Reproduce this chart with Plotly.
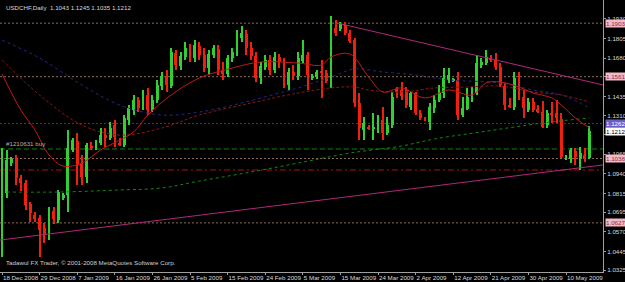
import plotly.graph_objects as go

# ---------------- data ----------------
date_labels = ["18 Dec 2008", "29 Dec 2008", "7 Jan 2009", "16 Jan 2009", "26 Jan 2009",
               "5 Feb 2009", "15 Feb 2009", "24 Feb 2009", "5 Mar 2009", "15 Mar 2009",
               "24 Mar 2009", "2 Apr 2009", "12 Apr 2009", "21 Apr 2009", "30 Apr 2009",
               "10 May 2009"]
date_label_bars = [0, 8, 16, 24, 32, 40, 48, 56, 64, 72, 80, 88, 96, 104, 112, 120]

price_ticks = [1.0325, 1.0445, 1.0570, 1.0695, 1.0815, 1.0940, 1.1065, 1.1190,
               1.1310, 1.1435, 1.1560, 1.1680, 1.1805, 1.1930]
hidden_ticks = [1.1190, 1.1560]   # covered by level labels on the chart

opens = [1.0741, 1.0818, 1.1009, 1.1035, 1.0914, 1.0882, 1.0747, 1.0677, 1.0658, 1.0594,
         1.0549, 1.0703, 1.0645, 1.0786, 1.0805, 1.1093, 1.1150, 1.1009, 1.0920, 1.1118,
         1.1105, 1.1137, 1.1188, 1.1169, 1.1252, 1.1137, 1.1125, 1.1284, 1.1348, 1.1412,
         1.1361, 1.1444, 1.1348, 1.1412, 1.1501, 1.1559, 1.1501, 1.1712, 1.1629, 1.1687,
         1.1744, 1.1680, 1.1757, 1.1700, 1.1616, 1.1700, 1.1738, 1.1604, 1.1578, 1.1680,
         1.1712, 1.1808, 1.1834, 1.1744, 1.1693, 1.1553, 1.1623, 1.1668, 1.1604, 1.1687,
         1.1655, 1.1508, 1.1591, 1.1565, 1.1661, 1.1700, 1.1553, 1.1559, 1.1591, 1.1585,
         1.1527, 1.1872, 1.1866, 1.1891, 1.1840, 1.1795, 1.1393, 1.1220, 1.1239, 1.1227,
         1.1233, 1.1284, 1.1201, 1.1252, 1.1482, 1.1476, 1.1476, 1.1367, 1.1457, 1.1329,
         1.1297, 1.1271, 1.1361, 1.1412, 1.1457, 1.1540, 1.1533, 1.1540, 1.1316, 1.1355,
         1.1425, 1.1457, 1.1636, 1.1648, 1.1680, 1.1668, 1.1623, 1.1501, 1.1380, 1.1367,
         1.1553, 1.1431, 1.1348, 1.1399, 1.1355, 1.1335, 1.1252, 1.1329, 1.1329, 1.1291,
         1.1048, 1.1035, 1.1086, 1.1041, 1.1061, 1.1043]
highs = [1.1105, 1.1093, 1.1048, 1.1061, 1.0933, 1.0901, 1.0760, 1.0696, 1.0677, 1.0626,
         1.0728, 1.0728, 1.0837, 1.0818, 1.1220, 1.1169, 1.1201, 1.1061, 1.1137, 1.1144,
         1.1157, 1.1233, 1.1233, 1.1271, 1.1284, 1.1169, 1.1316, 1.1380, 1.1444, 1.1431,
         1.1476, 1.1489, 1.1444, 1.1540, 1.1591, 1.1604, 1.1744, 1.1731, 1.1719, 1.1783,
         1.1770, 1.1795, 1.1783, 1.1744, 1.1731, 1.1764, 1.1764, 1.1655, 1.1700, 1.1744,
         1.1859, 1.1885, 1.1859, 1.1783, 1.1719, 1.1655, 1.1700, 1.1700, 1.1719, 1.1706,
         1.1680, 1.1616, 1.1636, 1.1719, 1.1795, 1.1719, 1.1578, 1.1604, 1.1668, 1.1604,
         1.1949, 1.1923, 1.1910, 1.1910, 1.1859, 1.1808, 1.1457, 1.1303, 1.1252, 1.1329,
         1.1316, 1.1367, 1.1303, 1.1463, 1.1495, 1.1527, 1.1495, 1.1463, 1.1463, 1.1348,
         1.1303, 1.1393, 1.1444, 1.1508, 1.1616, 1.1616, 1.1553, 1.1591, 1.1431, 1.1489,
         1.1495, 1.1700, 1.1680, 1.1731, 1.1700, 1.1712, 1.1648, 1.1521, 1.1425, 1.1591,
         1.1591, 1.1476, 1.1425, 1.1425, 1.1380, 1.1406, 1.1348, 1.1399, 1.1412, 1.1329,
         1.1061, 1.1105, 1.1105, 1.1112, 1.1105, 1.1245]
lows = [1.0409, 1.0786, 1.0990, 1.0869, 1.0831, 1.0709, 1.0632, 1.0632, 1.0409, 1.0498,
        1.0517, 1.0620, 1.0626, 1.0773, 1.0696, 1.1080, 1.0869, 1.0869, 1.0882, 1.1093,
        1.1093, 1.1125, 1.1112, 1.1157, 1.1112, 1.1118, 1.1112, 1.1252, 1.1316, 1.1335,
        1.1348, 1.1316, 1.1335, 1.1393, 1.1476, 1.1463, 1.1489, 1.1604, 1.1604, 1.1668,
        1.1655, 1.1655, 1.1668, 1.1591, 1.1578, 1.1680, 1.1572, 1.1540, 1.1559, 1.1655,
        1.1693, 1.1783, 1.1700, 1.1668, 1.1527, 1.1514, 1.1604, 1.1572, 1.1585, 1.1616,
        1.1489, 1.1476, 1.1540, 1.1540, 1.1648, 1.1476, 1.1540, 1.1546, 1.1425, 1.1521,
        1.1489, 1.1821, 1.1853, 1.1827, 1.1776, 1.1367, 1.1157, 1.1157, 1.1220, 1.1157,
        1.1201, 1.1157, 1.1188, 1.1233, 1.1425, 1.1412, 1.1361, 1.1348, 1.1316, 1.1284,
        1.1278, 1.1220, 1.1329, 1.1399, 1.1425, 1.1521, 1.1527, 1.1284, 1.1303, 1.1348,
        1.1399, 1.1444, 1.1616, 1.1636, 1.1655, 1.1604, 1.1495, 1.1348, 1.1361, 1.1348,
        1.1412, 1.1297, 1.1335, 1.1335, 1.1329, 1.1233, 1.1233, 1.1265, 1.1265, 1.1041,
        1.1029, 1.1009, 1.0997, 1.0965, 1.1016, 1.1035]
closes = [1.1009, 1.1029, 1.1035, 1.0914, 1.0882, 1.0741, 1.0690, 1.0652, 1.0581, 1.0549,
          1.0703, 1.0652, 1.0824, 1.0805, 1.1105, 1.1157, 1.0997, 1.0920, 1.1125, 1.1105,
          1.1137, 1.1188, 1.1169, 1.1233, 1.1176, 1.1125, 1.1297, 1.1361, 1.1412, 1.1361,
          1.1444, 1.1348, 1.1412, 1.1508, 1.1565, 1.1508, 1.1719, 1.1636, 1.1693, 1.1744,
          1.1680, 1.1764, 1.1700, 1.1616, 1.1706, 1.1744, 1.1604, 1.1578, 1.1680, 1.1719,
          1.1821, 1.1840, 1.1744, 1.1693, 1.1553, 1.1629, 1.1668, 1.1604, 1.1687, 1.1655,
          1.1514, 1.1591, 1.1565, 1.1680, 1.1700, 1.1572, 1.1565, 1.1591, 1.1585, 1.1533,
          1.1866, 1.1840, 1.1898, 1.1840, 1.1789, 1.1393, 1.1233, 1.1265, 1.1233, 1.1239,
          1.1291, 1.1201, 1.1252, 1.1431, 1.1463, 1.1438, 1.1380, 1.1457, 1.1329, 1.1297,
          1.1284, 1.1367, 1.1412, 1.1463, 1.1553, 1.1572, 1.1546, 1.1316, 1.1361, 1.1431,
          1.1463, 1.1648, 1.1655, 1.1687, 1.1668, 1.1623, 1.1508, 1.1380, 1.1367, 1.1553,
          1.1425, 1.1361, 1.1399, 1.1348, 1.1335, 1.1239, 1.1329, 1.1316, 1.1297, 1.1048,
          1.1054, 1.1093, 1.1048, 1.1073, 1.1035, 1.1212]

# moving averages (bar index, price)
ma_fast_bars = [0, 4, 7, 10, 13, 17, 21, 28, 31, 36, 42, 49, 55, 63, 68, 70, 74, 78, 81, 85,
                90, 95, 100, 103, 106, 110, 113, 117, 119, 122, 125]
ma_fast_vals = [1.1578, 1.1348, 1.1220, 1.1061, 1.0990, 1.1009, 1.1093, 1.1208, 1.1316,
                1.1444, 1.1553, 1.1616, 1.1655, 1.1648, 1.1636, 1.1687, 1.1706, 1.1559,
                1.1463, 1.1489, 1.1425, 1.1476, 1.1444, 1.1521, 1.1527, 1.1495, 1.1457,
                1.1425, 1.1380, 1.1297, 1.1233]
ma_mid_bars = [0, 8, 17, 25, 34, 42, 53, 63, 70, 75, 78, 85, 92, 99, 106, 113, 119, 125]
ma_mid_vals = [1.1668, 1.1444, 1.1252, 1.1188, 1.1233, 1.1316, 1.1393, 1.1457, 1.1489,
               1.1495, 1.1476, 1.1463, 1.1489, 1.1495, 1.1501, 1.1463, 1.1444, 1.1399]
ma_slow_bars = [0, 8, 17, 25, 34, 42, 51, 59, 63, 70, 75, 81, 88, 95, 106, 113, 119, 125]
ma_slow_vals = [1.1795, 1.1680, 1.1508, 1.1380, 1.1316, 1.1335, 1.1393, 1.1457, 1.1489,
                1.1559, 1.1610, 1.1591, 1.1572, 1.1540, 1.1521, 1.1476, 1.1444, 1.1361]
ma_long_bars = [1, 12, 25, 34, 42, 53, 63, 74, 85, 92, 102, 115, 125]
ma_long_vals = [1.0824, 1.0824, 1.0837, 1.0850, 1.0894, 1.0952, 1.1009, 1.1073, 1.1118,
                1.1163, 1.1208, 1.1265, 1.1297]

# horizontal levels
dotted_levels = [1.1903, 1.1561, 1.1038, 1.0627]
blue_level = 1.1262
order_level = 1.1099
stop_level = 1.0965
current_price = 1.1212

# trend lines (bar index, price)
down_trend_bars = [71.3, 127.9]
down_trend_vals = [1.1904, 1.1508]
up_trend_bars = [-0.43, 127.9]
up_trend_vals = [1.0517, 1.0997]

title_text = "USDCHF,Daily  1.1043 1.1245 1.1035 1.1212"
order_text = "#1210631 buy"
copyright_text = "Tadawul FX Trader, © 2001-2008 MetaQuotes Software Corp."

# ---------------- figure ----------------
GREEN = "#2fd02f"
RED = "#f0200c"
FONT = "Liberation Sans"
FS = 6.2
n = len(opens)
idx = list(range(n))
up = [c >= o for o, c in zip(opens, closes)]
colors = [GREEN if u else RED for u in up]

fig = go.Figure()

# moving averages
fig.add_trace(go.Scatter(x=ma_long_bars, y=ma_long_vals, mode="lines", line_shape="spline",
                         line=dict(color="#118a11", width=1, dash="dot"), hoverinfo="skip"))
fig.add_trace(go.Scatter(x=ma_slow_bars, y=ma_slow_vals, mode="lines", line_shape="spline",
                         line=dict(color="#26268e", width=1, dash="dot"), hoverinfo="skip"))
fig.add_trace(go.Scatter(x=ma_mid_bars, y=ma_mid_vals, mode="lines", line_shape="spline",
                         line=dict(color="#8a1616", width=1, dash="3px,2px"), hoverinfo="skip"))
fig.add_trace(go.Scatter(x=ma_fast_bars, y=ma_fast_vals, mode="lines", line_shape="spline",
                         line=dict(color="#c41a1a", width=1), hoverinfo="skip"))

# wicks
fig.add_trace(go.Bar(x=idx, y=[h - l for h, l in zip(highs, lows)], base=lows, width=0.22,
                     marker=dict(color=colors, line=dict(width=0)), hoverinfo="skip"))
# bodies
fig.add_trace(go.Bar(x=idx, y=[max(abs(c - o), 0.0004) for o, c in zip(opens, closes)],
                     base=[min(o, c) for o, c in zip(opens, closes)], width=0.62,
                     marker=dict(color=colors, line=dict(width=0)), hoverinfo="skip"))

shapes = []
for lv in dotted_levels:
    shapes.append(dict(type="line", xref="paper", x0=0, x1=1, yref="y", y0=lv, y1=lv,
                       line=dict(color="#8c6c58", width=1, dash="2px,2px"), layer="below"))
shapes.append(dict(type="line", xref="paper", x0=0, x1=1, yref="y", y0=blue_level, y1=blue_level,
                   line=dict(color="#3a3a78", width=1, dash="2px,2px"), layer="below"))
shapes.append(dict(type="line", xref="paper", x0=0, x1=1, yref="y", y0=order_level, y1=order_level,
                   line=dict(color="#0e800e", width=1, dash="5px,3px"), layer="below"))
shapes.append(dict(type="line", xref="paper", x0=0, x1=1, yref="y", y0=stop_level, y1=stop_level,
                   line=dict(color="#b01010", width=1, dash="6px,3px,2px,3px"), layer="below"))
shapes.append(dict(type="line", xref="x", yref="y", x0=down_trend_bars[0], x1=down_trend_bars[1],
                   y0=down_trend_vals[0], y1=down_trend_vals[1],
                   line=dict(color="#b0287a", width=1)))
shapes.append(dict(type="line", xref="x", yref="y", x0=up_trend_bars[0], x1=up_trend_bars[1],
                   y0=up_trend_vals[0], y1=up_trend_vals[1],
                   line=dict(color="#b0287a", width=1)))

annotations = []
label_font = dict(family=FONT, size=FS)
for lv in dotted_levels:
    annotations.append(dict(xref="paper", x=1, xanchor="left", xshift=2, yref="y", y=lv,
                            text=f"{lv:.4f}", showarrow=False, bgcolor="#f4b8c6",
                            font=dict(color="#8a3048", **label_font), borderpad=0))
annotations.append(dict(xref="paper", x=1, xanchor="left", xshift=2, yref="y", y=blue_level,
                        text=f"{blue_level:.4f}", showarrow=False, bgcolor="#6c5cc8",
                        font=dict(color="#ffffff", **label_font), borderpad=0))
annotations.append(dict(xref="paper", x=1, xanchor="left", xshift=2, yref="y", y=current_price,
                        text=f"{current_price:.4f}", showarrow=False, bgcolor="#ffffff",
                        font=dict(color="#000000", **label_font), borderpad=0))
annotations.append(dict(xref="paper", yref="paper", x=0, y=1, xanchor="left", yanchor="top",
                        xshift=4, yshift=-2, text=title_text, showarrow=False,
                        font=dict(color="#d8d8d8", **label_font)))
annotations.append(dict(xref="paper", yref="y", x=0, y=order_level, xanchor="left", yanchor="bottom",
                        xshift=4, yshift=0, text=order_text, showarrow=False,
                        font=dict(color="#b0b0b0", **label_font)))
annotations.append(dict(xref="paper", yref="paper", x=0, y=0, xanchor="left", yanchor="bottom",
                        xshift=4, yshift=4, text=copyright_text, showarrow=False,
                        font=dict(color="#d0d0d0", **label_font)))

fig.update_layout(
    width=625, height=282,
    margin=dict(l=0, r=22, t=0, b=10, autoexpand=False),
    paper_bgcolor="#000000", plot_bgcolor="#000000",
    showlegend=False, barmode="overlay", bargap=0,
    shapes=shapes, annotations=annotations,
    xaxis=dict(range=[-0.43, 127.87], tickvals=date_label_bars, ticktext=date_labels,
               tickangle=0, automargin=False,
               ticks="outside", ticklen=2, tickcolor="#a0a0a0", showline=True,
               linecolor="#a0a0a0", linewidth=1, showgrid=False, zeroline=False,
               ticklabelposition="outside right",
               tickfont=dict(family=FONT, size=FS, color="#d8d8d8")),
    yaxis=dict(range=[1.0313, 1.2051], side="right", tickvals=price_ticks,
               ticktext=["" if p in hidden_ticks else f"{p:.4f}" for p in price_ticks],
               automargin=False,
               ticks="outside", ticklen=2, tickcolor="#a0a0a0", showline=True,
               linecolor="#a0a0a0", linewidth=1, showgrid=False, zeroline=False,
               tickfont=dict(family=FONT, size=FS, color="#d8d8d8")),
)

fig.write_html("out.html")
